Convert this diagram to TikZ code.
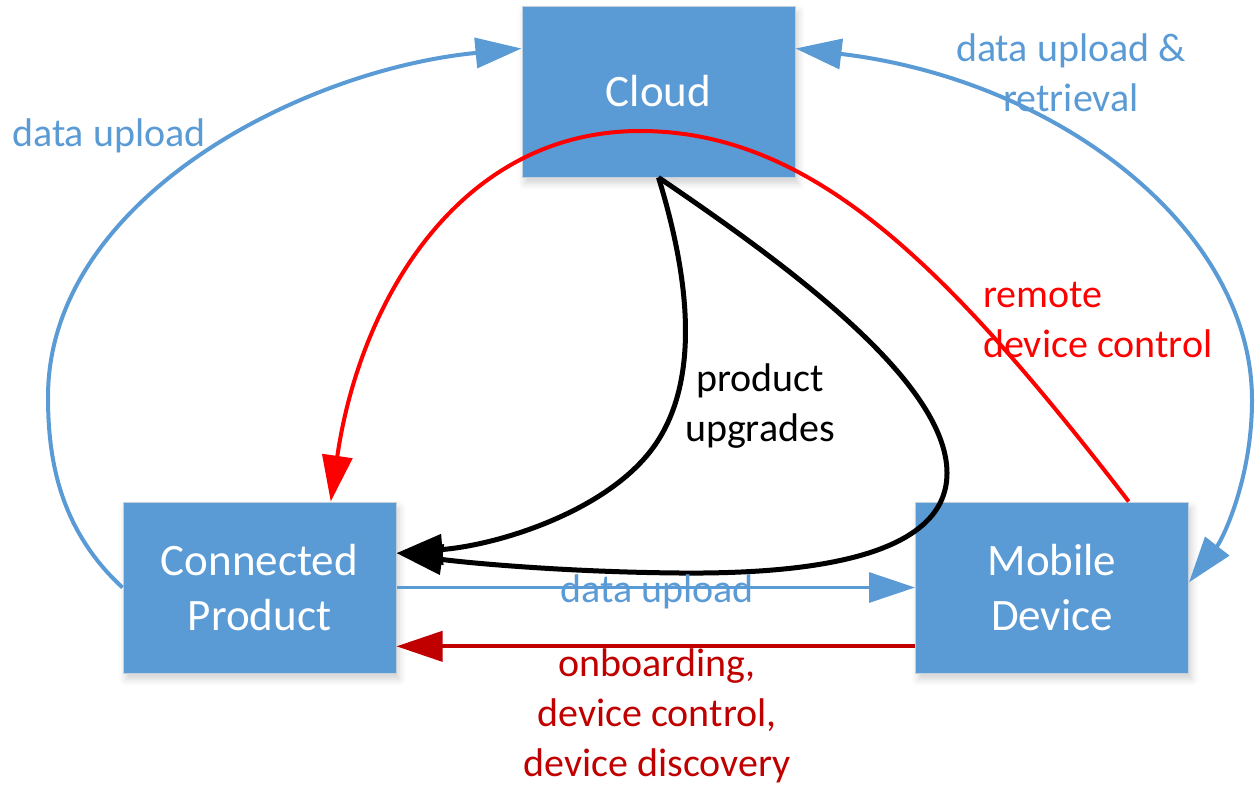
\documentclass[tikz,border=0pt]{standalone}
\usepackage{fontspec}
\setmainfont{Carlito}
\usetikzlibrary{arrows.meta,calc,shadows.blur}
\definecolor{boxblue}{HTML}{5B9BD5}
\definecolor{boxedge}{HTML}{C5D0DD}
\definecolor{linkblue}{HTML}{5B9BD5}
\definecolor{ctrlred}{HTML}{FF0000}
\definecolor{darkred}{HTML}{C00000}
\begin{document}
\begin{tikzpicture}[x=1pt,y=-1pt,
  block/.style={draw=boxedge, line width=1pt, fill=boxblue,
    minimum width=273pt, minimum height=171pt, inner sep=0pt,
    text=white, align=center, font=\fontsize{45}{55}\selectfont,
    blur shadow={shadow xshift=3pt, shadow yshift=-6pt,
      shadow blur radius=7pt, shadow opacity=18}},
  arr/.style={-{Triangle[length=46pt,width=30pt]}},
  arrboth/.style={{Triangle[length=46pt,width=30pt]}-{Triangle[length=46pt,width=30pt]}},
  lbl/.style={font=\fontsize{40}{50}\selectfont, inner sep=0pt, align=center},
]
\useasboundingbox (0,0) rectangle (1255,787);

% the three parties
\node[block] (cloud) at (658.5,91.5) {Cloud};
\node[block] (cp) at (259.5,587.5) {Connected\\Product};
\node[block] (md) at (1052,587.5) {Mobile\\Device};

% connected product -> cloud
\draw[linkblue, line width=4pt, arr]
  (cp.west) .. controls (60,530) and (48,460) .. (48,397)
  .. controls (48,200) and (300,70) .. ($(cloud.north west)!0.25!(cloud.south west)$);

% cloud <-> mobile device
\draw[linkblue, line width=4pt, arrboth]
  ($(cloud.north east)!0.25!(cloud.south east)$) .. controls (1060,80) and (1252,230) .. (1252,400)
  .. controls (1252,480) and (1222,540) .. ($(md.north east)!0.47!(md.south east)$);

% remote control via the cloud
\draw[ctrlred, line width=4pt, arr]
  ($(md.north west)!0.78!(md.north east)$) .. controls (950,270) and (815,131) .. (640,131)
  .. controls (460,131) and (360,300) .. ($(cp.north west)!0.76!(cp.north east)$);

% product upgrades, direct and via the mobile device
\coordinate (up) at ($(cp.north east)!0.3!(cp.south east)$);
\draw[black, line width=5pt, arr]
  (cloud.south) .. controls (690,280) and (700,380) .. (655,445)
  .. controls (610,510) and (500,545) .. (up);
\draw[black, line width=5pt, arr]
  (cloud.south) .. controls (780,260) and (947,380) .. (947,473)
  .. controls (947,560) and (800,574) .. (680,573)
  .. controls (560,572) and (460,562) .. (up);

% local links between product and mobile device
\draw[linkblue, line width=3.2pt, arr] (cp.east) -- (md.west);
\draw[darkred, line width=4pt, arr]
  ($(md.north west)!0.842!(md.south west)$) -- ($(cp.north east)!0.842!(cp.south east)$);

% labels (base anchor sits on the last line)
\node[lbl, text=linkblue, anchor=base west] (lup) at (12,146) {data upload};
\node[lbl, text=linkblue, anchor=base] (lret) at (1071,111) {data upload \&\\retrieval};
\node[lbl, text=ctrlred, anchor=base west, align=left] (lrem) at (983,357) {remote\\device control};
\node[lbl, text=black, anchor=base] (lupg) at (760,441) {product\\upgrades};
\node[lbl, text=linkblue, anchor=base] (lmid) at (657,602) {data upload};
\node[lbl, text=darkred, anchor=base] (lon) at (657,776) {onboarding,\\device control,\\device discovery};
\end{tikzpicture}
\end{document}
